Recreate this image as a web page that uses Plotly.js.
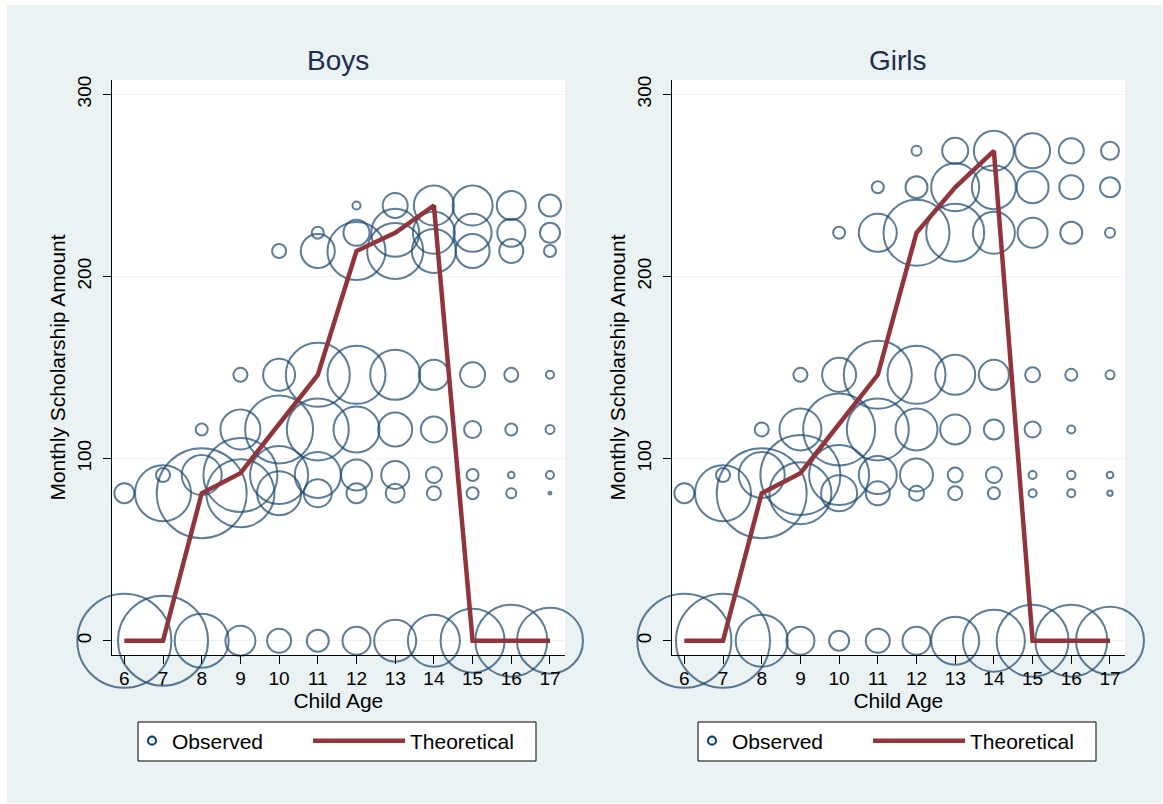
<!DOCTYPE html>
<html><head><meta charset="utf-8">
<script src="https://cdn.plot.ly/plotly-3.0.1.min.js"></script>
<style>
html,body{margin:0;padding:0;background:#ffffff;}
#chart{position:absolute;left:7px;top:5px;width:1155px;height:798px;}
</style></head><body><div id="chart"></div>
<script>
// ---------- data ----------
const ages = [6, 7, 8, 9, 10, 11, 12, 13, 14, 15, 16, 17];
const yTicks = [0, 100, 200, 300];

// Boys: observed amount levels and relative frequency (bubble weight) per age
const boysLevels = [0, 81, 91, 116, 146, 214, 224, 239];
const boysFreq0   = [2209, 2025, 729, 225, 144, 121, 196, 441, 676, 1024, 1296, 1089];
const boysFreq81  = [100, 784, 2025, 1156, 484, 196, 100, 90, 49, 36, 25, 2];
const boysFreq91  = [null, 49, 400, 1369, 841, 529, 240, 196, 64, 36, 11, 16];
const boysFreq116 = [null, null, 36, 400, 1156, 961, 529, 289, 169, 72, 36, 20];
const boysFreq146 = [null, null, null, 49, 256, 1024, 841, 625, 225, 156, 49, 16];
const boysFreq214 = [null, null, null, null, 49, 289, 841, 784, 484, 289, 144, 36];
const boysFreq224 = [null, null, null, null, null, 36, 169, 576, 441, 361, 196, 100];
const boysFreq239 = [null, null, null, null, null, null, 16, 156, 400, 400, 210, 121];
const boysTheory  = [0, 0, 81, 92, 119, 146, 214, 224, 239, 0, 0, 0];

// Girls
const girlsLevels = [0, 81, 91, 116, 146, 224, 249, 269];
const girlsFreq0   = [2209, 2209, 676, 196, 100, 144, 196, 576, 961, 1296, 1296, 1156];
const girlsFreq81  = [100, 784, 2025, 961, 324, 144, 56, 49, 36, 16, 16, 7];
const girlsFreq91  = [null, 49, 529, 1600, 900, 361, 272, 56, 64, 16, 18, 11];
const girlsFreq116 = [null, null, 49, 441, 1296, 961, 441, 225, 100, 64, 16, null];
const girlsFreq146 = [null, null, null, 49, 289, 1156, 841, 400, 225, 56, 36, 20];
const girlsFreq224 = [null, null, null, null, 36, 361, 1089, 841, 441, 225, 121, 25];
const girlsFreq249 = [null, null, null, null, null, 36, 121, 576, 484, 256, 144, 100];
const girlsFreq269 = [null, null, null, null, null, null, 25, 169, 400, 306, 156, 81];
const girlsTheory  = [0, 0, 81, 92, 119, 146, 224, 249, 269, 0, 0, 0];

const panelTitles = ['Boys', 'Girls'];
const seriesNames = ['Observed', 'Theoretical'];
const xTitle = 'Child Age';
const yTitle = 'Monthly Scholarship Amount';

// ---------- build ----------
const NAVY = '#1a476f', MAROON = '#90353b';
const FONT = '"Liberation Sans", Arial, Helvetica, sans-serif';

function bubbles(levels, rows) {
  const x = [], y = [], s = [];
  levels.forEach((lv, i) => rows[i].forEach((f, j) => {
    if (f != null) { x.push(ages[j]); y.push(lv); s.push(f); }
  }));
  return {x, y, s};
}
const boysB = bubbles(boysLevels, [boysFreq0, boysFreq81, boysFreq91, boysFreq116, boysFreq146, boysFreq214, boysFreq224, boysFreq239]);
const girlsB = bubbles(girlsLevels, [girlsFreq0, girlsFreq81, girlsFreq91, girlsFreq116, girlsFreq146, girlsFreq224, girlsFreq249, girlsFreq269]);

function panelTraces(b, theory, xa, ya, legObs, legTh) {
  return [
    {type: 'scatter', mode: 'markers', x: b.x, y: b.y, xaxis: xa, yaxis: ya,
     marker: {size: b.s, sizemode: 'area', sizeref: 0.5, color: 'rgba(0,0,0,0)',
              line: {color: NAVY, width: 2}},
     cliponaxis: false, showlegend: false, hoverinfo: 'skip'},
    {type: 'scatter', mode: 'markers', x: [null], y: [null], xaxis: xa, yaxis: ya,
     name: seriesNames[0], legend: legObs, showlegend: true,
     marker: {size: 8, color: 'rgba(0,0,0,0)', line: {color: NAVY, width: 2.2}}},
    {type: 'scatter', mode: 'lines', x: ages, y: theory, xaxis: xa, yaxis: ya,
     name: seriesNames[1], legend: legTh, showlegend: true, cliponaxis: false,
     line: {color: MAROON, width: 4.5}, hoverinfo: 'skip'}
  ];
}
const data = [
  ...panelTraces(boysB, boysTheory, 'x', 'y', 'legend', 'legend2'),
  ...panelTraces(girlsB, girlsTheory, 'x2', 'y2', 'legend3', 'legend4')
];

const W = 1155, H = 798;
const yDom = [1 - 650 / H, 1 - 75 / H];
function xAxis(dom, anchor) {
  return {domain: dom, anchor: anchor, range: [5.674, 17.388], tickvals: ages,
    showgrid: false, zeroline: false, showline: true, linecolor: '#000', linewidth: 1,
    ticks: 'outside', ticklen: 8, tickwidth: 1, tickcolor: '#000',
    tickfont: {size: 19, color: '#000'}, ticklabelstandoff: -2,
    title: {text: xTitle, font: {size: 21, color: '#000'}, standoff: 0},
    automargin: true, fixedrange: true};
}
function yAxis(anchor) {
  return {domain: yDom, anchor: anchor, range: [-7.85, 307.9], tickvals: yTicks,
    tickangle: -90, showgrid: true, gridcolor: '#eaf2f3', gridwidth: 1.5,
    zeroline: false, showline: true, linecolor: '#000', linewidth: 1,
    ticks: 'outside', ticklen: 8, tickwidth: 1, tickcolor: '#000',
    tickfont: {size: 19, color: '#000'}, ticklabelstandoff: 4,
    title: {text: yTitle, font: {size: 21, color: '#000'}, standoff: 2},
    automargin: false, fixedrange: true};
}
function leg(xpx, iw) {
  return {x: xpx / W, y: 1 - 736 / H, xanchor: 'left', yanchor: 'middle',
    orientation: 'h', bgcolor: 'rgba(0,0,0,0)', borderwidth: 0, itemwidth: iw,
    font: {size: 21, color: '#000', family: FONT}};
}
function box(x0) {
  return {type: 'rect', xref: 'paper', yref: 'paper', layer: 'below',
    x0: x0 / W, x1: (x0 + 398) / W, y0: 1 - 756 / H, y1: 1 - 717 / H,
    fillcolor: '#ffffff', line: {color: '#000', width: 1}};
}
function ttl(text, xpx) {
  return {text: text, xref: 'paper', yref: 'paper', x: xpx / W, y: 1 - 55 / H,
    xanchor: 'center', yanchor: 'middle', showarrow: false,
    font: {size: 28, color: '#1f2d4d', family: FONT}};
}

const layout = {
  width: W, height: H,
  paper_bgcolor: '#eaf2f3', plot_bgcolor: '#ffffff',
  margin: {l: 0, r: 0, t: 0, b: 0},
  font: {family: FONT, size: 19, color: '#000'},
  showlegend: true,
  xaxis: xAxis([104.7 / W, 558 / W], 'y'),
  yaxis: yAxis('x'),
  xaxis2: xAxis([664.7 / W, 1118 / W], 'y2'),
  yaxis2: yAxis('x2'),
  legend: leg(125, 30),
  legend2: leg(301, 92),
  legend3: leg(685, 30),
  legend4: leg(861, 92),
  shapes: [box(131), box(691)],
  annotations: [ttl(panelTitles[0], 331.4), ttl(panelTitles[1], 891.4)]
};

Plotly.newPlot('chart', data, layout, {displayModeBar: false, staticPlot: true});
</script></body></html>
